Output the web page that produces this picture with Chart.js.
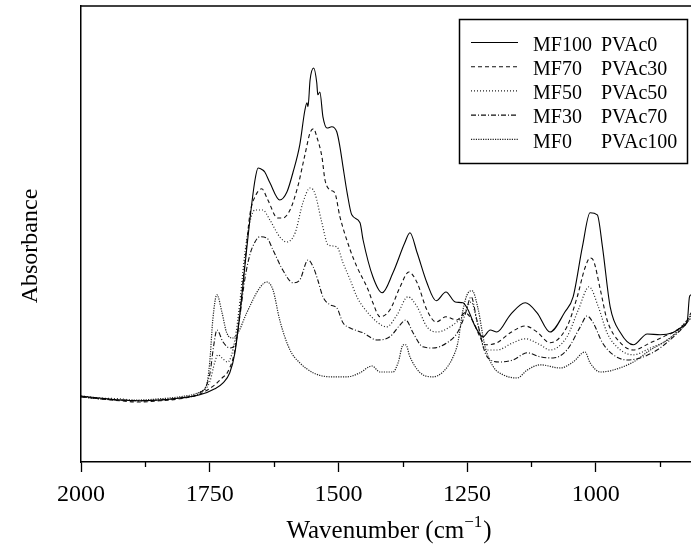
<!DOCTYPE html>
<html>
<head>
<meta charset="utf-8">
<script src="https://cdn.jsdelivr.net/npm/chart.js@4.4.1/dist/chart.umd.min.js"></script>
<style>
  html, body { margin: 0; padding: 0; background: #fff; }
  #wrap { width: 691px; height: 549px; position: relative; }
</style>
</head>
<body>
<div id="wrap"><canvas id="c" width="691" height="549"></canvas></div>
<script>
// ---- Data (wavenumber in cm^-1, absorbance in a.u.) ----
const mfLabels = ['MF100', 'MF70', 'MF50', 'MF30', 'MF0'];
const pvacLabels = ['PVAc0', 'PVAc30', 'PVAc50', 'PVAc70', 'PVAc100'];
const majorTicks = [2000, 1750, 1500, 1250, 1000];
const minorTicks = [1875, 1625, 1375, 1125, 875];

const mf100Wn = [2000,1964,1925,1886,1847,1808,1769,1740,1724,1711,1701,1691,1682,1672,1662,1656,1647,1643,1633,1614,1600,1588,1575,1565,1561,1559,1555,1548,1542,1540,1536,1530,1522,1513,1503,1497,1491,1483,1474,1458,1452,1433,1415,1394,1371,1361,1347,1328,1310,1291,1273,1258,1248,1234,1219,1205,1192,1166,1137,1114,1089,1060,1044,1026,1011,997,987,972,952,927,900,875,851,832,822,818,815];
const mf100Abs = [0.165,0.160,0.155,0.153,0.155,0.160,0.168,0.183,0.198,0.223,0.273,0.373,0.485,0.605,0.705,0.735,0.730,0.725,0.698,0.655,0.675,0.725,0.793,0.880,0.898,0.888,0.955,0.985,0.948,0.918,0.925,0.863,0.835,0.838,0.825,0.788,0.738,0.673,0.618,0.598,0.555,0.463,0.423,0.473,0.548,0.573,0.523,0.448,0.403,0.425,0.400,0.398,0.380,0.338,0.313,0.330,0.325,0.368,0.398,0.373,0.325,0.375,0.413,0.538,0.623,0.618,0.538,0.388,0.323,0.293,0.320,0.318,0.323,0.338,0.355,0.413,0.418];

const mf70Wn = [2000,1964,1925,1886,1847,1808,1769,1740,1726,1715,1701,1691,1682,1672,1660,1649,1637,1618,1608,1594,1579,1565,1555,1548,1542,1532,1526,1516,1507,1497,1477,1464,1442,1433,1419,1400,1380,1363,1347,1328,1310,1291,1270,1254,1238,1225,1215,1192,1166,1137,1114,1089,1056,1036,1021,1011,1005,991,978,952,927,894,869,842,822,815];
const mf70Abs = [0.163,0.158,0.153,0.150,0.153,0.158,0.170,0.193,0.210,0.225,0.280,0.380,0.493,0.618,0.668,0.683,0.655,0.610,0.610,0.630,0.688,0.768,0.823,0.833,0.813,0.763,0.705,0.680,0.673,0.613,0.530,0.488,0.430,0.398,0.363,0.380,0.438,0.475,0.448,0.380,0.350,0.363,0.355,0.373,0.350,0.313,0.293,0.298,0.323,0.340,0.325,0.298,0.338,0.413,0.485,0.510,0.505,0.430,0.355,0.298,0.280,0.298,0.313,0.330,0.355,0.373];

const mf50Wn = [2000,1964,1925,1886,1847,1808,1769,1750,1740,1734,1726,1715,1701,1691,1682,1672,1662,1647,1633,1614,1600,1584,1569,1555,1546,1532,1520,1503,1491,1477,1464,1452,1425,1406,1386,1365,1347,1328,1308,1283,1258,1242,1229,1215,1192,1161,1137,1108,1089,1056,1034,1013,995,978,952,927,894,861,830,815];
const mf50Abs = [0.165,0.160,0.158,0.153,0.155,0.160,0.173,0.200,0.250,0.268,0.260,0.250,0.305,0.405,0.518,0.600,0.630,0.630,0.605,0.563,0.550,0.573,0.648,0.685,0.673,0.598,0.543,0.538,0.498,0.455,0.413,0.388,0.350,0.338,0.368,0.413,0.388,0.338,0.325,0.338,0.365,0.400,0.343,0.280,0.280,0.298,0.308,0.293,0.280,0.313,0.380,0.438,0.388,0.323,0.280,0.268,0.285,0.305,0.343,0.368];

const mf30Wn = [2000,1964,1925,1886,1847,1808,1769,1750,1742,1736,1724,1711,1701,1691,1682,1672,1662,1653,1639,1627,1608,1588,1575,1559,1549,1540,1530,1516,1503,1491,1477,1452,1425,1400,1380,1369,1355,1336,1316,1289,1268,1254,1242,1231,1211,1186,1161,1133,1108,1083,1056,1030,1017,1005,987,966,939,914,881,849,822,815];
const mf30Abs = [0.163,0.158,0.155,0.153,0.155,0.160,0.173,0.218,0.293,0.330,0.300,0.285,0.293,0.368,0.455,0.518,0.550,0.563,0.560,0.530,0.480,0.448,0.455,0.505,0.488,0.455,0.413,0.393,0.385,0.348,0.335,0.323,0.305,0.313,0.343,0.355,0.323,0.288,0.285,0.298,0.325,0.368,0.413,0.355,0.263,0.250,0.255,0.273,0.263,0.260,0.280,0.338,0.365,0.348,0.298,0.268,0.255,0.260,0.280,0.313,0.350,0.365];

const mf0Wn = [2000,1964,1925,1886,1847,1808,1769,1756,1750,1744,1736,1726,1717,1705,1695,1678,1653,1639,1627,1614,1594,1575,1549,1516,1483,1458,1435,1419,1394,1384,1374,1369,1361,1341,1316,1297,1277,1268,1258,1248,1240,1229,1215,1199,1180,1153,1133,1108,1069,1044,1021,1011,991,966,927,894,861,830,815];
const mf0Abs = [0.163,0.158,0.155,0.155,0.158,0.163,0.175,0.193,0.248,0.355,0.418,0.373,0.323,0.310,0.323,0.373,0.435,0.450,0.430,0.355,0.280,0.248,0.223,0.213,0.213,0.223,0.240,0.225,0.225,0.248,0.293,0.293,0.263,0.223,0.213,0.225,0.263,0.298,0.380,0.423,0.428,0.385,0.288,0.238,0.218,0.210,0.230,0.243,0.235,0.250,0.275,0.248,0.225,0.230,0.250,0.280,0.305,0.338,0.360];

const seriesWn = [mf100Wn, mf70Wn, mf50Wn, mf30Wn, mf0Wn];
const seriesAbs = [mf100Abs, mf70Abs, mf50Abs, mf30Abs, mf0Abs];
const seriesDash = [[], [4, 3], [1, 2], [5, 2, 1, 2], [1.2, 1.2]];
const seriesColor = ['#000', '#111', '#222', '#111', '#222'];
const seriesWidth = [1.1, 1.1, 1.2, 1.1, 1.2];

const SERIF = '"Liberation Serif", "Times New Roman", serif';

const datasets = seriesWn.map((wn, i) => ({
  label: mfLabels[i] + ' ' + pvacLabels[i],
  data: wn.map((w, k) => ({ x: w, y: seriesAbs[i][k] })),
  borderColor: seriesColor[i],
  borderWidth: seriesWidth[i],
  borderDash: seriesDash[i],
  pointRadius: 0,
  fill: false,
  cubicInterpolationMode: 'monotone'
}));

const decorPlugin = {
  id: 'decor',
  afterDraw(chart) {
    const ctx = chart.ctx;
    const a = chart.chartArea;
    const xs = chart.scales.x;
    ctx.save();
    // top frame
    ctx.strokeStyle = '#000';
    ctx.lineWidth = 1.5;
    ctx.beginPath();
    ctx.moveTo(a.left, a.top);
    ctx.lineTo(a.right, a.top);
    ctx.stroke();
    // minor ticks
    ctx.lineWidth = 1.3;
    minorTicks.forEach(v => {
      const px = Math.round(xs.getPixelForValue(v)) + 0.5;
      ctx.beginPath();
      ctx.moveTo(px, a.bottom);
      ctx.lineTo(px, a.bottom + 5);
      ctx.stroke();
    });
    // legend box
    ctx.lineWidth = 1.5;
    ctx.strokeRect(459.5, 19.5, 228, 144);
    ctx.font = '20px ' + SERIF;
    ctx.fillStyle = '#000';
    ctx.textBaseline = 'middle';
    ctx.textAlign = 'left';
    mfLabels.forEach((lab, i) => {
      const ly = 42.5 + i * 24.2;
      ctx.save();
      ctx.strokeStyle = seriesColor[i];
      ctx.lineWidth = seriesWidth[i];
      ctx.setLineDash(seriesDash[i]);
      ctx.beginPath();
      ctx.moveTo(471, ly);
      ctx.lineTo(518, ly);
      ctx.stroke();
      ctx.restore();
      ctx.fillText(lab, 533, ly + 3);
      ctx.fillText(pvacLabels[i], 601, ly + 3);
    });
    // x-axis title with superscript
    const main1 = 'Wavenumber (cm';
    const sup = '\u22121';
    const close = ')';
    ctx.font = '25px ' + SERIF;
    const w1 = ctx.measureText(main1).width;
    const w3 = ctx.measureText(close).width;
    ctx.font = '17px ' + SERIF;
    const w2 = ctx.measureText(sup).width;
    const total = w1 + w2 + 1 + w3;
    let sx = 389 - total / 2;
    const base = 538;
    ctx.textBaseline = 'alphabetic';
    ctx.font = '25px ' + SERIF;
    ctx.fillText(main1, sx, base);
    ctx.font = '17px ' + SERIF;
    ctx.fillText(sup, sx + w1, base - 11);
    ctx.font = '25px ' + SERIF;
    ctx.fillText(close, sx + w1 + w2 + 1, base);
    // y-axis title
    ctx.translate(31, 246);
    ctx.rotate(-Math.PI / 2);
    ctx.textAlign = 'center';
    ctx.textBaseline = 'middle';
    ctx.font = '24px ' + SERIF;
    ctx.fillText('Absorbance', 0, 0);
    ctx.restore();
  }
};

new Chart(document.getElementById('c'), {
  type: 'line',
  data: { datasets },
  options: {
    responsive: false,
    animation: false,
    devicePixelRatio: 1,
    layout: { padding: { top: 6, right: 0, left: 0, bottom: 0 } },
    plugins: { legend: { display: false }, tooltip: { enabled: false }, title: { display: false } },
    scales: {
      x: {
        type: 'linear',
        reverse: true,
        min: 815,
        max: 2000,
        afterBuildTicks: (s) => { s.ticks = majorTicks.concat(minorTicks).sort((p, q) => q - p).map(v => ({ value: v })); },
        afterFit: (s) => { s.height = 87; },
        ticks: {
          autoSkip: false,
          maxRotation: 0,
          padding: 8,
          color: '#000',
          font: { family: SERIF, size: 24 },
          callback: (v) => majorTicks.includes(v) ? String(v) : ''
        },
        grid: {
          display: true,
          drawOnChartArea: false,
          drawTicks: true,
          tickLength: 10,
          tickWidth: 1.3,
          tickColor: (c) => (c.tick && majorTicks.includes(c.tick.value)) ? '#000' : 'rgba(0,0,0,0)'
        },
        border: { display: true, color: '#000', width: 1.5 }
      },
      y: {
        type: 'linear',
        min: 0,
        max: 1.14,
        afterFit: (s) => { s.width = 81; },
        ticks: { display: false },
        grid: { display: false, drawTicks: false },
        border: { display: true, color: '#000', width: 1.5 }
      }
    }
  },
  plugins: [decorPlugin]
});
</script>
</body>
</html>
